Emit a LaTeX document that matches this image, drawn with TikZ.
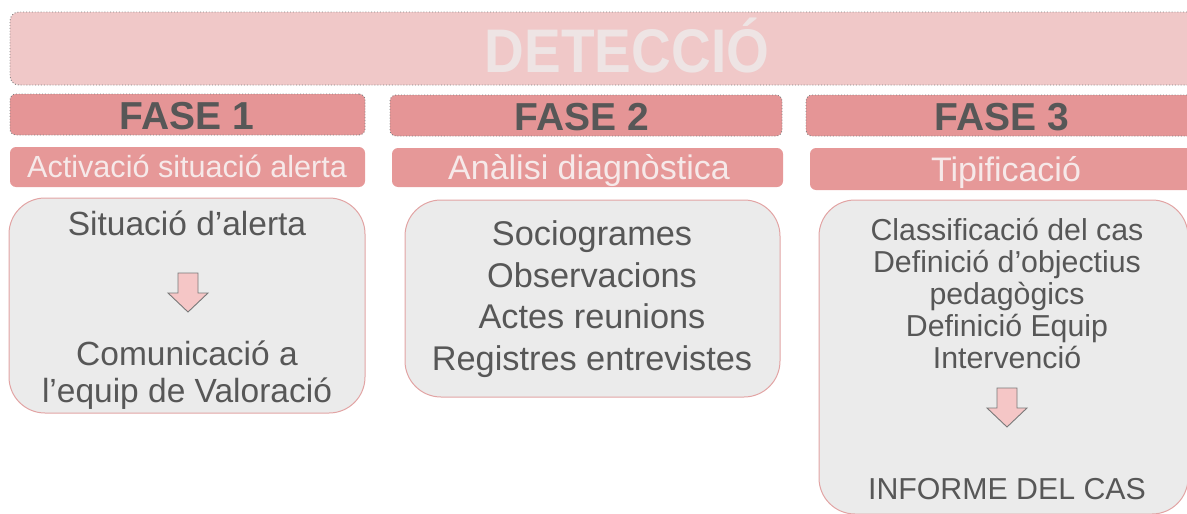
\documentclass[tikz,border=0pt]{standalone}
\usepackage{fontspec}
\setmainfont{Liberation Sans}
\usetikzlibrary{fit}
\definecolor{bannerpink}{HTML}{F0C8C8}
\definecolor{fasepink}{HTML}{E59596}
\definecolor{subpink}{HTML}{E69898}
\definecolor{boxgray}{HTML}{EBEBEB}
\definecolor{boxline}{HTML}{E2A4A4}
\definecolor{darktext}{HTML}{575757}
\definecolor{lighttext}{HTML}{F6E9E9}
\definecolor{titletext}{HTML}{EEE4E4}
\definecolor{arrowfill}{HTML}{F5C6C6}
\definecolor{dotline}{HTML}{808080}
\newcommand{\tallbox}[1]{\scalebox{1}[1.12]{#1}}
\begin{document}
\begin{tikzpicture}[x=1pt,y=-1pt,
  banner/.style={draw=dotline, dotted, line width=0.9pt, fill=bannerpink, rounded corners=9pt, inner sep=0pt},
  fasebox/.style={draw=dotline, dotted, line width=0.9pt, fill=fasepink, rounded corners=6pt, inner sep=0pt},
  subbox/.style={fill=subpink, rounded corners=6pt, inner sep=0pt},
  contentbox/.style={draw=boxline, line width=1pt, fill=boxgray, rounded corners=36pt, inner sep=0pt},
  titletxt/.style={anchor=base, inner sep=0pt, text=titletext, font=\fontsize{55}{60}\selectfont\bfseries},
  fasetxt/.style={anchor=base, inner sep=0pt, text=darktext, font=\fontsize{39}{42}\selectfont\bfseries},
  subtxt/.style={anchor=base, inner sep=0pt, text=lighttext, font=\fontsize{34}{36}\selectfont},
  subtxtA/.style={subtxt, font=\fontsize{30.6}{34}\selectfont},
  boxtxtA/.style={anchor=base, inner sep=0pt, text=darktext, font=\fontsize{33.5}{36}\selectfont},
  boxtxtB/.style={anchor=base, inner sep=0pt, text=darktext, font=\fontsize{34.3}{37}\selectfont},
  boxtxtC/.style={anchor=base, inner sep=0pt, text=darktext, font=\fontsize{30.3}{33}\selectfont},
  downarrow/.pic={\draw[draw=darktext!80, line width=0.9pt, fill=arrowfill, line join=miter]
     (-10,0) -- (10,0) -- (10,20) -- (20,20) -- (0,39) -- (-20,20) -- (-10,20) -- cycle;}
]
\useasboundingbox (0,0) rectangle (1187,514);
\clip (0,0) rectangle (1187,514);

% banner
\node[banner, fit={(10,12) (1196,85)}] (ban) {};
\node[titletxt] (dt) at (627,72) {\tallbox{DETECCIÓ}};

% fase headers
\node[fasebox, fit={(10,94) (365,135)}] (f1) {};
\node[fasebox, fit={(390,95) (782,136)}] (f2) {};
\node[fasebox, fit={(806,95) (1196,136)}] (f3) {};
\node[fasetxt] (f1t) at (187,129) {FASE 1};
\node[fasetxt] (f2t) at (582,130) {FASE 2};
\node[fasetxt] (f3t) at (1002,130) {FASE 3};

% subtitles
\node[subbox, fit={(10,147) (365,187)}] (s1) {};
\node[subbox, fit={(392,148) (783,187)}] (s2) {};
\node[subbox, fit={(810,148) (1196,190)}] (s3) {};
\node[subtxtA] (s1t) at (187,177) {Activació situació alerta};
\node[subtxt] (s2t) at (589,179) {Anàlisi diagnòstica};
\node[subtxt] (s3t) at (1006,181) {Tipificació};

% content boxes
\node[contentbox, fit={(9,198) (365,413)}] (c1) {};
\node[contentbox, fit={(405,200) (780,397)}] (c2) {};
\node[contentbox, fit={(819,200) (1188,514)}] (c3) {};

% box 1
\node[boxtxtA] (c1a) at (187,235) {Situació d’alerta};
\pic at (188,273) {downarrow};
\node[boxtxtA] (c1b) at (187,365) {Comunicació a};
\node[boxtxtA] (c1c) at (187,402) {l’equip de Valoració};

% box 2
\node[boxtxtB] (c2a) at (592,245) {Sociogrames};
\node[boxtxtB] (c2b) at (592,287) {Observacions};
\node[boxtxtB] (c2c) at (592,328) {Actes reunions};
\node[boxtxtB] (c2d) at (592,370) {Registres entrevistes};

% box 3
\node[boxtxtC] (c3a) at (1007,240) {Classificació del cas};
\node[boxtxtC] (c3b) at (1007,272) {Definició d’objectius};
\node[boxtxtC] (c3c) at (1007,304) {pedagògics};
\node[boxtxtC] (c3d) at (1007,336) {Definició Equip};
\node[boxtxtC] (c3e) at (1007,368) {Intervenció};
\pic at (1007,388) {downarrow};
\node[boxtxtC] (c3f) at (1007,499) {INFORME DEL CAS};
\end{tikzpicture}
\end{document}
